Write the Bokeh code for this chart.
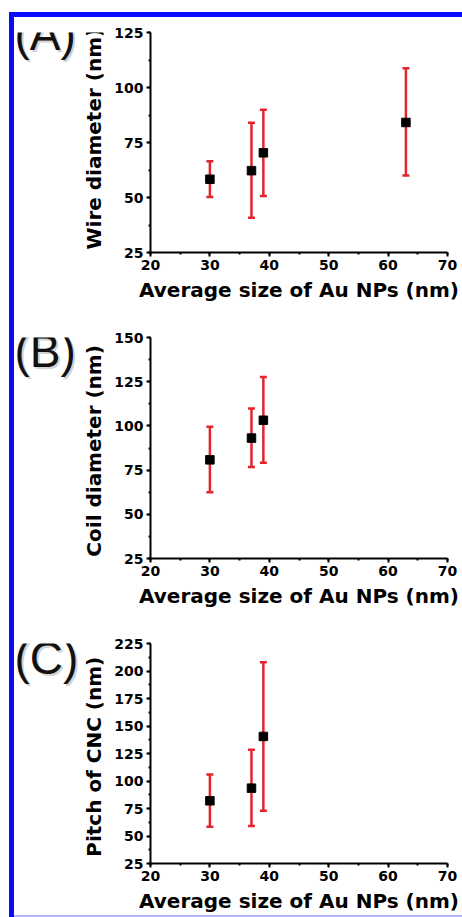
import math
from bokeh.plotting import figure
from bokeh.models import (ColumnDataSource, Whisker, TeeHead, SingleIntervalTicker,
                          Range1d, Spacer)
from bokeh.core.properties import value
from bokeh.layouts import column, row
from bokeh.embed import file_html
from bokeh.resources import INLINE

# ---------------- data ----------------
x_title = "Average size of Au NPs (nm)"
x_ticks_interval = 10

wire_x = [30, 37, 39, 63]
wire_mean = [58.3, 62.2, 70.3, 84.1]
wire_low = [50.2, 40.8, 50.7, 60.0]
wire_high = [66.5, 84.0, 89.9, 108.7]

coil_x = [30, 37, 39]
coil_mean = [80.8, 93.1, 103.2]
coil_low = [62.5, 76.8, 79.1]
coil_high = [99.5, 109.8, 127.6]

pitch_x = [30, 37, 39]
pitch_mean = [82.0, 93.5, 140.5]
pitch_low = [58.3, 59.0, 73.0]
pitch_high = [106.0, 128.5, 208.0]

panel_letters = ["(A)", "(B)", "(C)"]
y_titles = ["Wire diameter (nm)", "Coil diameter (nm)", "Pitch of CNC (nm)"]
y_maxes = [125, 150, 225]

RED = "#e0262e"
FONT = "DejaVu Sans"

SIDE_W = 96        # panel letter + y title column
FRAME_W = 297
BORDER_L = 40
BORDER_R = 15


def make_side(letter, ytitle, height, frame_top, frame_h):
    q = figure(width=SIDE_W, height=height,
               x_range=Range1d(0, SIDE_W), y_range=Range1d(0, height),
               x_axis_type=None, y_axis_type=None, title_location=None,
               min_border=0, min_border_left=0, min_border_right=0,
               min_border_top=0, min_border_bottom=0,
               output_backend="svg", toolbar_location=None)
    q.grid.visible = False
    q.outline_line_color = None
    # letter placed just above the level of the frame top
    ly = height - (frame_top - 13)
    src = ColumnDataSource(dict(x=[0], y=[ly], t=[letter]))
    q.text(x="x", y="y", text="t", source=src, x_offset=2, y_offset=2,
           text_font=value("Liberation Sans"), text_font_size=value("46px"),
           text_baseline="alphabetic", text_align="left", text_color="#8a8a8a",
           text_alpha=0.4)
    q.text(x="x", y="y", text="t", source=src,
           text_font=value("Liberation Sans"), text_font_size=value("46px"),
           text_baseline="alphabetic", text_align="left", text_color="#111111")
    # y-axis title, slightly below the frame centre as in the original
    ty = height - (frame_top + frame_h / 2 + 14)
    tsrc = ColumnDataSource(dict(x=[79], y=[ty], t=[ytitle]))
    q.text(x="x", y="y", text="t", source=tsrc, angle=math.pi / 2,
           text_font=value(FONT), text_font_style="bold",
           text_font_size=value("20px"), text_baseline="middle",
           text_align="center", text_color="black")
    return q


def make_panel(xs, mean, low, high, ymax, b_top, frame_h, b_bottom):
    src = ColumnDataSource(dict(x=xs, mean=mean, low=low, high=high))
    p = figure(frame_width=FRAME_W, frame_height=frame_h,
               min_border_left=BORDER_L, min_border_right=BORDER_R,
               min_border_top=b_top, min_border_bottom=b_bottom,
               x_range=Range1d(20, 70), y_range=Range1d(25, ymax),
               output_backend="svg", toolbar_location=None)
    p.grid.visible = False
    p.outline_line_color = None

    p.xaxis.ticker = SingleIntervalTicker(interval=x_ticks_interval, num_minor_ticks=2)
    p.yaxis.ticker = SingleIntervalTicker(interval=25, num_minor_ticks=2)
    for ax in (p.xaxis[0], p.yaxis[0]):
        ax.axis_line_width = 2
        ax.axis_line_color = "black"
        ax.major_tick_line_width = 2
        ax.minor_tick_line_width = 2
        ax.major_tick_in = 0
        ax.major_tick_out = 4
        ax.minor_tick_in = 0
        ax.minor_tick_out = 2
        ax.major_label_text_font = FONT
        ax.major_label_text_font_style = "bold"
        ax.major_label_text_font_size = "14px"
        ax.major_label_text_color = "black"
        ax.axis_label_text_font = FONT
        ax.axis_label_text_font_style = "bold"
        ax.axis_label_text_font_size = "20px"
        ax.axis_label_text_color = "black"
    p.xaxis.axis_label = x_title
    p.xaxis.major_label_standoff = 3
    p.xaxis.axis_label_standoff = 5
    p.yaxis.major_label_standoff = 3

    w = Whisker(base="x", lower="low", upper="high", source=src,
                line_color=RED, line_width=2.5,
                upper_head=TeeHead(size=7, line_color=RED, line_width=2.5),
                lower_head=TeeHead(size=7, line_color=RED, line_width=2.5))
    p.add_layout(w)
    p.scatter("x", "mean", source=src, marker="square", size=8.5,
              fill_color="black", line_color="black")
    return p


specs = [
    (wire_x, wire_mean, wire_low, wire_high, 15, 220, 53),
    (coil_x, coil_mean, coil_low, coil_high, 32, 221, 52),
    (pitch_x, pitch_mean, pitch_low, pitch_high, 33, 220, 52),
]
rows = []
for i, (xs, m, lo, hi, bt, fh, bb) in enumerate(specs):
    p = make_panel(xs, m, lo, hi, y_maxes[i], bt, fh, bb)
    h = bt + fh + bb
    q = make_side(panel_letters[i], y_titles[i], h, bt, fh)
    rows.append(row(q, p, spacing=0))

panels_h = sum(s[4] + s[5] + s[6] for s in specs)
inner_w = SIDE_W + BORDER_L + FRAME_W + BORDER_R
BLUE = "#0a0aff"
top_bar = Spacer(width=inner_w, height=5, styles={"background-color": BLUE})
bottom_bar = Spacer(width=inner_w, height=2, styles={"background-color": "#b4b4ff"})
inner = column(top_bar, *rows, bottom_bar, spacing=0)
full_h = 5 + panels_h + 2
left_gap = Spacer(width=9, height=full_h)
left_bar = Spacer(width=5, height=full_h, styles={"background-color": BLUE})
top_gap = Spacer(width=9 + 5 + inner_w, height=12)
layout = column(top_gap, row(left_gap, left_bar, inner, spacing=0), spacing=0)

open("out.html", "w").write(file_html(layout, INLINE))
